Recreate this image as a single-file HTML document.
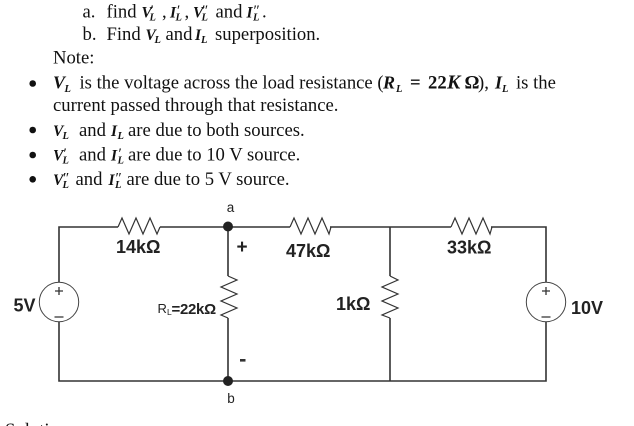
<!DOCTYPE html>
<html><head><meta charset="utf-8"><style>
html,body{margin:0;padding:0;background:#fff;width:634px;height:426px;overflow:hidden}
svg{display:block}
.t{font:18.67px "Liberation Serif",serif;fill:#111}
.m{font:italic bold 15.5px "Liberation Serif",serif;fill:#111}
.b{font:italic bold 18px "Liberation Serif",serif;fill:#111}
.s{font:italic bold 10.5px "Liberation Serif",serif;fill:#111}
.p{font:15px "Liberation Serif",serif;fill:#111}
.c{font:bold 18px "Liberation Sans",sans-serif;fill:#222}
.w{fill:none;stroke:#333;stroke-width:1.6}
.r{fill:none;stroke:#333;stroke-width:1.2}
</style></head><body>
<svg width="634" height="426" viewBox="0 0 634 426" xmlns="http://www.w3.org/2000/svg">
<text class="t" x="82.5" y="17.5">a.</text><text class="t" x="106.5" y="17.5">find</text>
<text class="m" x="141.5" y="17.5">V</text><text class="s" x="149.5" y="20.5">L</text><text class="p" x="150.5" y="15">′</text>
<text class="t" x="162" y="17.5">,</text>
<text class="m" x="170" y="17.5">I</text><text class="s" x="175.5" y="20.5">L</text><text class="p" x="177" y="15">′</text><text class="t" x="184.5" y="17.5">,</text>
<text class="m" x="193" y="17.5">V</text><text class="s" x="201.5" y="20.5">L</text><text class="p" x="202" y="15">″</text>
<text class="t" x="215.5" y="17.5">and</text>
<text class="m" x="246.5" y="17.5">I</text><text class="s" x="253" y="20.5">L</text><text class="p" x="253.5" y="15">″</text><text class="t" x="262" y="17.5">.</text>

<text class="t" x="82.5" y="40">b.</text><text class="t" x="106.5" y="40">Find</text>
<text class="m" x="145.5" y="40">V</text><text class="s" x="154.5" y="43">L</text>
<text class="t" x="165.5" y="40">and</text>
<text class="m" x="195" y="40">I</text><text class="s" x="201" y="43">L</text>
<text class="t" x="215" y="40">superposition.</text>

<text class="t" x="53" y="63.5">Note:</text>

<circle cx="32.7" cy="83.5" r="3.3" fill="#111"/>
<text class="b" x="53" y="88.5">V</text><text class="s" x="64.5" y="92">L</text>
<text class="t" x="79.5" y="88.5">is the voltage across the load resistance (</text>
<text class="b" x="383" y="88.5">R</text><text class="s" x="396" y="92">L</text>
<text class="t" x="410" y="88.5" style="font-weight:bold">=</text>
<text class="t" x="428" y="88.5" style="font-weight:bold">22</text>
<text class="b" x="447" y="88.5" style="font-size:20px">K</text>
<text class="t" x="464.5" y="88.5" style="font-weight:bold">Ω</text>
<text class="t" x="478" y="88.5">),</text>
<text class="b" x="495" y="88.5">I</text><text class="s" x="502" y="92">L</text>
<text class="t" x="516" y="88.5">is the</text>
<text class="t" x="53" y="111">current passed through that resistance.</text>

<circle cx="32.7" cy="130" r="3.3" fill="#111"/>
<text class="m" x="53" y="136">V</text><text class="s" x="62.5" y="139">L</text>
<text class="t" x="79" y="136">and</text>
<text class="m" x="111" y="136">I</text><text class="s" x="117.5" y="139">L</text>
<text class="t" x="128" y="136">are due to both sources.</text>

<circle cx="32.7" cy="155" r="3.3" fill="#111"/>
<text class="m" x="53" y="160.5">V</text><text class="s" x="62.5" y="163.5">L</text><text class="p" x="63.5" y="158">′</text>
<text class="t" x="79" y="160.5">and</text>
<text class="m" x="111" y="160.5">I</text><text class="s" x="117.5" y="163.5">L</text><text class="p" x="118.5" y="158">′</text>
<text class="t" x="128" y="160.5">are due to 10 V source.</text>

<circle cx="32.7" cy="179.3" r="3.3" fill="#111"/>
<text class="m" x="53" y="185">V</text><text class="s" x="62.5" y="188">L</text><text class="p" x="63" y="182.5">″</text>
<text class="t" x="75.5" y="185">and</text>
<text class="m" x="108.5" y="185">I</text><text class="s" x="115" y="188">L</text><text class="p" x="115.5" y="182.5">″</text>
<text class="t" x="126.5" y="185">are due to 5 V source.</text>

<path class="w" d="M59 282V227H118M160 227H290M330 227H451M491 227H546V282M59 322V381H546V322M228 227V276M228 318V381M390 227V276M390 318V381"/>
<path class="r" d="M118 227L122 218L129 234L136 218L143 234L150 218L157 234L160 227"/>
<path class="r" d="M290 227L294 218L301 234L308 218L315 234L322 218L329 234L331 227"/>
<path class="r" d="M451 227L455 218L462 234L469 218L476 234L483 218L490 234L492 227"/>
<path class="r" d="M228 276L237 280L221 287L237 294L221 301L237 308L221 315L228 318"/>
<path class="r" d="M390 276L398 280L382 287L398 294L382 301L398 308L382 315L390 318"/>
<circle cx="59" cy="302" r="19.7" fill="#fff" stroke="#444" stroke-width="1"/>
<circle cx="546" cy="302" r="19.7" fill="#fff" stroke="#444" stroke-width="1"/>
<path d="M55 291H63M59 287V295M54.5 317H63.5M542 291H550M546 287V295M541.5 317H550.5" stroke="#333" stroke-width="1.3" fill="none"/>
<circle cx="228" cy="226.5" r="5" fill="#222"/>
<circle cx="228" cy="381" r="5" fill="#222"/>

<text x="230.5" y="212" text-anchor="middle" style="font:13.5px 'Liberation Sans',sans-serif" fill="#222">a</text>
<text x="231" y="403" text-anchor="middle" style="font:13.5px 'Liberation Sans',sans-serif" fill="#222">b</text>
<text class="c" x="116" y="253">14kΩ</text>
<text class="c" x="286" y="257">47kΩ</text>
<text class="c" x="447" y="253.5">33kΩ</text>
<text class="c" x="336" y="310">1kΩ</text>
<text class="c" x="13.5" y="311.5">5V</text>
<text class="c" x="571" y="314">10V</text>
<text x="157.5" y="313" style="font:13px 'Liberation Sans',sans-serif" fill="#222">R</text>
<text x="167" y="315" style="font:8.5px 'Liberation Sans',sans-serif" fill="#222">L</text>
<text x="171.5" y="314" style="font:bold 15px 'Liberation Sans',sans-serif;letter-spacing:-.3px" fill="#222">=22kΩ</text>
<text x="242" y="253" text-anchor="middle" style="font:bold 19px 'Liberation Sans',sans-serif" fill="#222">+</text>
<rect x="240" y="359" width="5.5" height="2.6" fill="#333"/>
<text class="t" x="5" y="436">Solution</text>
</svg>
</body></html>
